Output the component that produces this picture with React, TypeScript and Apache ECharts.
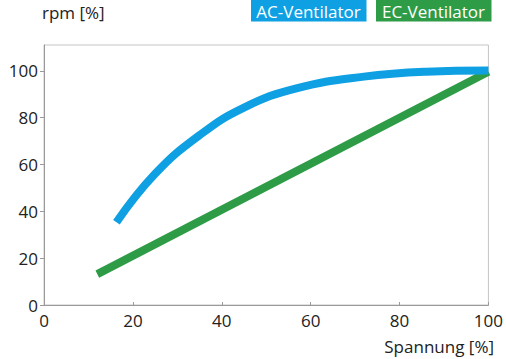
import React, { useEffect, useRef } from "react";
import * as echarts from "echarts";

const xTicks = [0, 20, 40, 60, 80, 100];
const yTicks = [0, 20, 40, 60, 80, 100];
const acName = "AC-Ventilator";
const ecName = "EC-Ventilator";
const acData: [number, number][] = [
  [16.3, 35.3],
  [25, 56],
  [35, 72.5],
  [45, 84.3],
  [57, 92.6],
  [72, 97.5],
  [86, 99.6],
  [100, 100.1],
];
const ecData: [number, number][] = [
  [12, 13.2],
  [100, 99.6],
];

const BLUE = "#0ea0e3";
const GREEN = "#2e9c46";
const FONT = "Open Sans";

export default function App() {
  const ref = useRef<HTMLDivElement>(null);
  useEffect(() => {
    if (!ref.current) return;
    const chart = echarts.init(ref.current, null, { renderer: "svg" });
    chart.setOption({
      animation: false,
      textStyle: { fontFamily: FONT },
      grid: {
        left: 44,
        right: 13.5,
        top: 45,
        bottom: 54,
        show: true,
        borderColor: "#c4c4c4",
        borderWidth: 1,
      },
      xAxis: {
        type: "value",
        min: 0,
        max: 100,
        interval: 20,
        splitLine: { show: false },
        axisLine: { lineStyle: { color: "#9a9a9a", width: 1 } },
        axisTick: { show: true, inside: true, length: 3, lineStyle: { color: "#9a9a9a" } },
        axisLabel: {
          color: "#222",
          fontSize: 17,
          fontFamily: FONT,
          margin: 7,
          customValues: xTicks,
        },
      },
      yAxis: {
        type: "value",
        min: 0,
        max: 111,
        interval: 20,
        splitLine: { show: false },
        axisLine: { show: true, lineStyle: { color: "#9a9a9a", width: 1 } },
        axisTick: { show: true, length: 4, lineStyle: { color: "#9a9a9a" }, customValues: yTicks },
        axisLabel: {
          color: "#222",
          fontSize: 17,
          fontFamily: FONT,
          margin: 6,
          customValues: yTicks,
        },
      },
      series: [
        {
          name: ecName,
          type: "line",
          data: ecData,
          showSymbol: false,
          lineStyle: { color: GREEN, width: 8, cap: "butt" },
          itemStyle: { color: GREEN },
          z: 2,
        },
        {
          name: acName,
          type: "line",
          data: acData,
          smooth: 0.45,
          showSymbol: false,
          lineStyle: { color: BLUE, width: 8, cap: "butt", join: "round" },
          itemStyle: { color: BLUE },
          z: 3,
        },
      ],
      graphic: [
        {
          type: "text",
          x: 42,
          y: 12,
          style: {
            text: "rpm [%]",
            fontSize: 17,
            fontFamily: FONT,
            fill: "#222",
            verticalAlign: "middle",
          },
        },
        {
          type: "text",
          x: 494,
          y: 346,
          style: {
            text: "Spannung [%]",
            fontSize: 17,
            fontFamily: FONT,
            fill: "#222",
            align: "right",
            verticalAlign: "middle",
          },
        },
        {
          type: "rect",
          shape: { x: 251, y: 0, width: 115.5, height: 21.5 },
          style: { fill: BLUE },
        },
        {
          type: "text",
          x: 308.5,
          y: 11.5,
          style: {
            text: acName,
            fontSize: 17,
            fontFamily: FONT,
            fill: "#fff",
            align: "center",
            verticalAlign: "middle",
          },
        },
        {
          type: "rect",
          shape: { x: 376, y: 0, width: 115.5, height: 21.5 },
          style: { fill: GREEN },
        },
        {
          type: "text",
          x: 433.5,
          y: 11.5,
          style: {
            text: ecName,
            fontSize: 17,
            fontFamily: FONT,
            fill: "#fff",
            align: "center",
            verticalAlign: "middle",
          },
        },
      ],
    });
    return () => chart.dispose();
  }, []);
  return <div ref={ref} style={{ width: 506, height: 359, position: "absolute", left: 0, top: 0 }} />;
}
